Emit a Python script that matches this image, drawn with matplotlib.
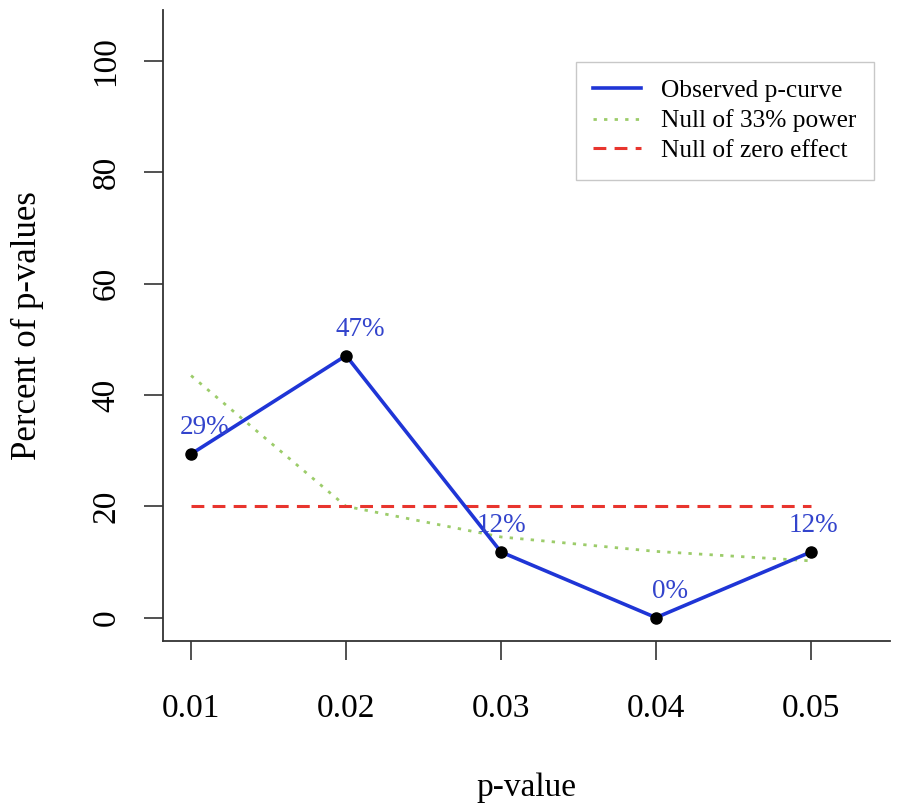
import numpy as np
import matplotlib.pyplot as plt

plt.rcParams['font.family'] = ['Liberation Serif', 'DejaVu Serif']

# p-value bins and percentages
p_values = [0.01, 0.02, 0.03, 0.04, 0.05]
observed = [29.4, 47.1, 11.8, 0.0, 11.8]
null_33 = [43.5, 20.0, 14.5, 11.9, 10.2]
null_zero = [20, 20, 20, 20, 20]
labels = ['29%', '47%', '12%', '0%', '12%']

fig = plt.figure(figsize=(9.11, 8.05), dpi=100)
ax = fig.add_axes([163/911, 164/805, 727/911, 631/805])

ax.plot(p_values, observed, color='#1f35d6', lw=2.6, zorder=3,
        label='Observed p-curve')
ax.plot(p_values, null_33, color='#9ccc6a', lw=2.0, ls=(0, (1.2, 2.6)),
        zorder=2, label='Null of 33% power')
ax.plot(p_values, null_zero, color='#e8352e', lw=2.2, ls=(0, (4.2, 2.7)),
        zorder=2, label='Null of zero effect')
ax.plot(p_values, observed, 'o', color='black', ms=8, zorder=4)

# label offsets in points (the original is not quite centred)
label_dx = [10, 10, 0, 10, 2]
for x, y, t, dx in zip(p_values, observed, labels, label_dx):
    ax.annotate(t, (x, y), xytext=(dx, 19), textcoords='offset points',
                ha='center', va='center', fontsize=19.5, color='#3344cc')

ax.set_xlim(0.00819, 0.0551)
ax.set_ylim(-4.2, 109.2)
ax.set_xticks(p_values)
ax.set_xticklabels(['0.01', '0.02', '0.03', '0.04', '0.05'])
ax.set_yticks([0, 20, 40, 60, 80, 100])
ax.set_yticklabels(['0', '20', '40', '60', '80', '100'], rotation=90,
                   va='center')

for s in ['top', 'right']:
    ax.spines[s].set_visible(False)
for s in ['left', 'bottom']:
    ax.spines[s].set_linewidth(1.3)
    ax.spines[s].set_color('#333333')

ax.tick_params(axis='both', length=14, width=1.2, color='#333333',
               labelsize=24)
ax.tick_params(axis='x', pad=24)
ax.tick_params(axis='y', pad=16)

ax.set_xlabel('p-value', fontsize=24, labelpad=35)
ax.set_ylabel('Percent of p-values', fontsize=25, labelpad=34)

leg = ax.legend(loc='upper right', bbox_to_anchor=(0.978, 0.918),
                fontsize=18.3, frameon=True, fancybox=False,
                handlelength=1.85, handletextpad=0.8, labelspacing=0.28,
                borderpad=0.7, borderaxespad=0)
leg.get_frame().set_edgecolor('#bbbbbb')
leg.get_frame().set_linewidth(1.0)

plt.savefig('out.png', dpi=100)
